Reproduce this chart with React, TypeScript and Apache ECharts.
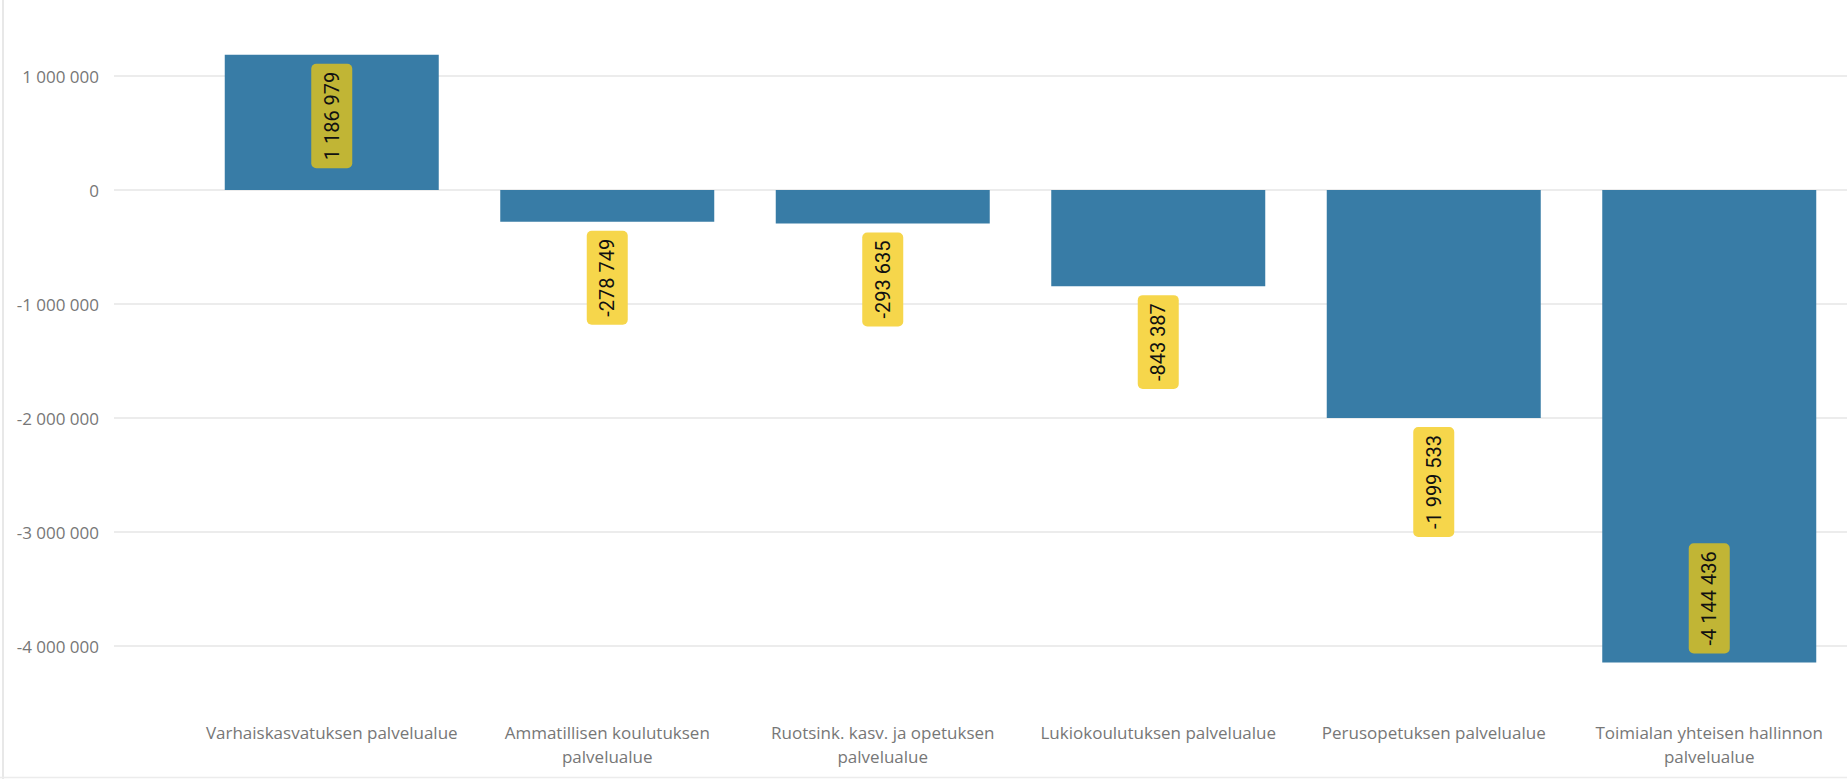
import React, { useEffect, useRef } from 'react';
import * as echarts from 'echarts';

const categories: string[] = [
  'Varhaiskasvatuksen palvelualue',
  'Ammatillisen koulutuksen\npalvelualue',
  'Ruotsink. kasv. ja opetuksen\npalvelualue',
  'Lukiokoulutuksen palvelualue',
  'Perusopetuksen palvelualue',
  'Toimialan yhteisen hallinnon\npalvelualue',
];
const values: number[] = [1186979, -278749, -293635, -843387, -1999533, -4144436];

const Y_MIN = -4500000;
const Y_MAX = 1500000;
const LABEL_SPAN = 1000000;

const fmt = (v: number): string => {
  const s = Math.abs(Math.round(v)).toString().replace(/\B(?=(\d{3})+(?!\d))/g, ' ');
  return (v < 0 ? '-' : '') + s;
};

export default function App() {
  const ref = useRef<HTMLDivElement>(null);
  useEffect(() => {
    if (!ref.current) return;
    const chart = echarts.init(ref.current, undefined, { renderer: 'svg' });
    const barData = values.map((v) => {
      const inside = v >= 0 ? v + LABEL_SPAN > Y_MAX : v - LABEL_SPAN < Y_MIN;
      let pos: any;
      if (v >= 0) pos = inside ? { position: 'insideTop', align: 'right' } : { position: 'top', align: 'left' };
      else pos = inside ? { position: 'insideBottom', align: 'left' } : { position: 'bottom', align: 'right' };
      return {
        value: v,
        label: { ...pos, backgroundColor: inside ? '#C1B535' : '#F6D64B' },
      };
    });
    chart.setOption({
      animation: false,
      backgroundColor: '#ffffff',
      graphic: [
        { type: 'line', shape: { x1: 3, y1: 0, x2: 3, y2: 779 }, style: { stroke: '#e8e8e8', lineWidth: 2 } },
        { type: 'line', shape: { x1: 0, y1: 777.5, x2: 1847, y2: 777.5 }, style: { stroke: '#ececec', lineWidth: 1.5 } },
      ],
      grid: [
        { left: 114, right: 0, top: 19, height: 684 },
        { left: 194, width: 1656, top: 19, height: 684 },
      ],
      xAxis: [
        { gridIndex: 0, type: 'value', min: 0, max: 1, show: false },
        {
          gridIndex: 1,
          type: 'category',
          data: categories,
          axisLine: { show: false },
          axisTick: { show: false },
          axisLabel: {
            interval: 0,
            color: '#777777',
            fontSize: 17,
            fontFamily: 'Open Sans',
            lineHeight: 24,
            margin: 17,
          },
        },
      ],
      yAxis: [
        {
          gridIndex: 0,
          type: 'value',
          min: Y_MIN,
          max: Y_MAX,
          splitNumber: 6,
          axisLine: { show: false },
          axisTick: { show: false },
          axisLabel: {
            color: '#777777',
            fontSize: 17,
            fontFamily: 'Open Sans',
            margin: 15,
            showMinLabel: false,
            showMaxLabel: false,
            formatter: (v: number) => (v % 1000000 === 0 ? fmt(v) : ''),
          },
          splitLine: { show: true, showMinLine: false, showMaxLine: false, lineStyle: { color: '#e6e6e6', width: 1.5 } },
        },
        { gridIndex: 1, type: 'value', min: Y_MIN, max: Y_MAX, show: false, splitLine: { show: false } },
      ],
      series: [
        {
          type: 'bar',
          xAxisIndex: 1,
          yAxisIndex: 1,
          barWidth: 214,
          itemStyle: { color: '#387CA6' },
          data: barData,
          label: {
            show: true,
            rotate: 90,
            verticalAlign: 'middle',
            distance: 9,
            fontFamily: 'Roboto',
            fontSize: 20,
            color: '#111111',
            lineHeight: 23,
            padding: [9, 8, 9, 8],
            borderRadius: 5,
            formatter: (p: any) => fmt(p.value),
          },
        },
      ],
    });
    return () => chart.dispose();
  }, []);
  return (
    <div
      ref={ref}
      style={{ position: 'fixed', left: 0, top: 0, width: '1847px', height: '779px' }}
    />
  );
}
